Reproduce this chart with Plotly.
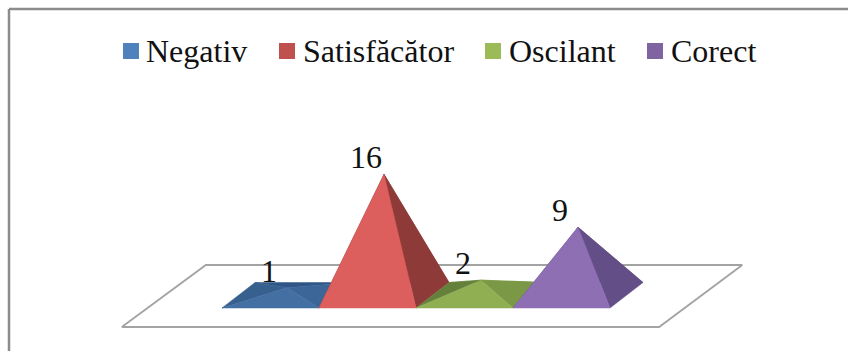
import plotly.graph_objects as go

# Chart content
categories = ["Negativ", "Satisfăcător", "Oscilant", "Corect"]
values = [1, 16, 2, 9]

# Face colours per series: front, left, right, back
front_colors = ["#436FA3", "#DC5F5D", "#90AF52", "#8E6FB4"]
left_colors = ["#37608F", "#8E3A38", "#65803A", "#634E87"]
right_colors = ["#3C6698", "#8E3A38", "#7A9845", "#634E87"]
back_colors = ["#2F5686", "#8E3A38", "#6F8C40", "#634E87"]
swatch_colors = ["#4F81BD", "#C0504D", "#9BBB59", "#8064A2"]

# Oblique projection of the 3D plot box onto the page
BAR_STEP = 97.0
ORIGIN_X = 222.0
ORIGIN_Y = 308.0
DEPTH_DX = 33.0
DEPTH_DY = -25.5
UNIT_DY = -7.56


def project(slot, depth, value=0.0):
    x = ORIGIN_X + slot * BAR_STEP + depth * DEPTH_DX
    y = ORIGIN_Y + depth * DEPTH_DY + value * UNIT_DY
    return x, y


def polygon(points, color, line=None):
    xs = [p[0] for p in points] + [points[0][0]]
    ys = [p[1] for p in points] + [points[0][1]]
    return go.Scatter(
        x=xs, y=ys, mode="lines", fill="toself", fillcolor=color,
        line=dict(color=line or color, width=0.5), hoverinfo="skip",
        showlegend=False,
    )


fig = go.Figure()

# Floor of the plot box
floor = [project(-0.78, -0.745), project(4.76, -0.745),
         project(4.79, 1.686), project(-0.74, 1.686)]
fig.add_trace(polygon(floor, "#FFFFFF", "#A3A3A3"))
fig.data[-1].line.width = 1.8

# One pyramid per category
LABEL_FONT = dict(family="Liberation Serif", size=32, color="#111111")
for i, v in enumerate(values):
    fl, fr = project(i, 0), project(i + 1, 0)
    bl, br = project(i, 1), project(i + 1, 1)
    apex = project(i + 0.5, 0.5, v)
    fig.add_trace(polygon([bl, br, apex], back_colors[i]))
    fig.add_trace(polygon([fl, bl, apex], left_colors[i]))
    fig.add_trace(polygon([fr, br, apex], right_colors[i]))
    fig.add_trace(polygon([fl, fr, apex], front_colors[i]))

annotations = []
for i, v in enumerate(values):
    ax, ay = project(i + 0.5, 0.5, v)
    annotations.append(dict(
        x=ax - 18, y=ay - 17, text=str(v), showarrow=False,
        xanchor="center", yanchor="middle", font=LABEL_FONT,
    ))

# Legend row
legend_swatch_x = [123, 279, 485, 647]
legend_text_x = [144, 301, 507, 669]
LEGEND_Y = 51
fig.add_trace(go.Scatter(
    x=[sx + 8 for sx in legend_swatch_x], y=[LEGEND_Y] * 4, mode="markers",
    marker=dict(symbol="square", size=16, color=swatch_colors),
    hoverinfo="skip", showlegend=False,
))
for tx, name in zip(legend_text_x, categories):
    annotations.append(dict(
        x=tx, y=LEGEND_Y, text=name, showarrow=False,
        xanchor="left", yanchor="middle", font=LABEL_FONT,
    ))

# Chart area border: only the top and left edges fall inside the page
border = [
    dict(type="line", xref="x", yref="y", x0=9, y0=9, x1=848, y1=9,
         line=dict(color="#8C8C8C", width=2.5)),
    dict(type="line", xref="x", yref="y", x0=9, y0=9, x1=9, y1=351,
         line=dict(color="#8C8C8C", width=2.5)),
]

fig.update_layout(
    width=848, height=351,
    margin=dict(l=0, r=0, t=0, b=0),
    paper_bgcolor="#FFFFFF", plot_bgcolor="#FFFFFF",
    xaxis=dict(range=[0, 848], visible=False, fixedrange=True),
    yaxis=dict(range=[351, 0], visible=False, fixedrange=True),
    annotations=annotations, shapes=border, showlegend=False,
)

fig.write_html("out.html", config=dict(displayModeBar=False))
